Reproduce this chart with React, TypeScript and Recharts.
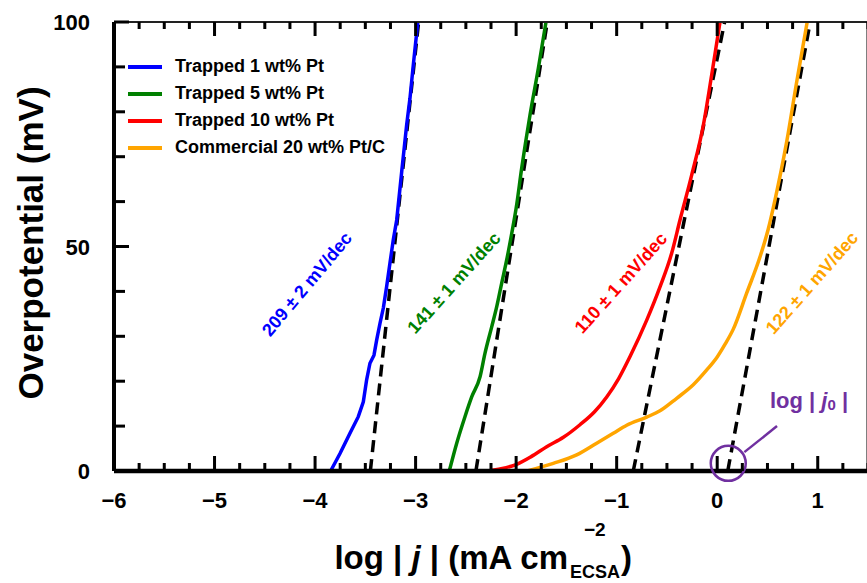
import React from "react";
import { ComposedChart, Line, XAxis, YAxis, Legend, ReferenceDot, ReferenceLine } from "recharts";

const FONT = "'Liberation Sans', Arial, Helvetica, sans-serif";

const xTicks = [
  -6, -5.75, -5.5, -5.25, -5, -4.75, -4.5, -4.25, -4, -3.75, -3.5, -3.25, -3, -2.75, -2.5, -2.25, -2, -1.75, -1.5,
  -1.25, -1, -0.75, -0.5, -0.25, 0, 0.25, 0.5, 0.75, 1, 1.25, 1.5,
];
const yTicks = [0, 10, 20, 30, 40, 50, 60, 70, 80, 90, 100];

const names = ["Trapped 1 wt% Pt", "Trapped 5 wt% Pt", "Trapped 10 wt% Pt", "Commercial 20 wt% Pt/C"];
const colors = ["#0000ff", "#008000", "#ff0000", "#ffa500"];
const slopes = ["209 ± 2 mV/dec", "141 ± 1 mV/dec", "110 ± 1 mV/dec", "122 ± 1 mV/dec"];

const blueCurve = [
  { x: -3.845, y: 0 }, { x: -3.752, y: 3.9 }, { x: -3.653, y: 8.4 }, { x: -3.57, y: 12.1 }, { x: -3.52, y: 15.4 },
  { x: -3.487, y: 20.3 }, { x: -3.454, y: 24.0 }, { x: -3.414, y: 25.8 }, { x: -3.387, y: 29.2 }, { x: -3.354, y: 32.9 },
  { x: -3.321, y: 36.3 }, { x: -3.288, y: 41.1 }, { x: -3.255, y: 46.3 }, { x: -3.222, y: 51.5 }, { x: -3.188, y: 55.9 },
  { x: -3.138, y: 66.7 }, { x: -3.089, y: 77.1 }, { x: -3.056, y: 83.0 }, { x: -3.023, y: 90.4 }, { x: -2.978, y: 100 },
];
const greenCurve = [
  { x: -2.665, y: 0 }, { x: -2.591, y: 6.2 }, { x: -2.509, y: 12.1 }, { x: -2.442, y: 16.5 }, { x: -2.359, y: 21.0 },
  { x: -2.31, y: 26.2 }, { x: -2.243, y: 32.1 }, { x: -2.193, y: 36.6 }, { x: -2.144, y: 41.8 }, { x: -2.094, y: 47.0 },
  { x: -2.044, y: 52.9 }, { x: -2.0, y: 58.5 }, { x: -1.945, y: 67.4 }, { x: -1.862, y: 79.3 }, { x: -1.779, y: 89.7 },
  { x: -1.703, y: 100 },
];
const redCurve = [
  { x: -2.28, y: 0 }, { x: -2.15, y: 0.5 }, { x: -1.994, y: 1.5 }, { x: -1.85, y: 3.2 }, { x: -1.696, y: 5.4 },
  { x: -1.53, y: 7.5 }, { x: -1.365, y: 10.3 }, { x: -1.22, y: 13.2 }, { x: -1.099, y: 16.5 }, { x: -0.98, y: 20.6 },
  { x: -0.867, y: 25.5 }, { x: -0.701, y: 33.6 }, { x: -0.569, y: 41.0 }, { x: -0.453, y: 48.5 }, { x: -0.37, y: 55.9 },
  { x: -0.254, y: 65.9 }, { x: -0.138, y: 77.0 }, { x: -0.055, y: 88.2 }, { x: 0.028, y: 100 },
];
const orangeCurve = [
  { x: -1.89, y: 0 }, { x: -1.63, y: 1.7 }, { x: -1.398, y: 3.6 }, { x: -1.199, y: 6.2 }, { x: -1.034, y: 8.4 },
  { x: -0.9, y: 10.2 }, { x: -0.701, y: 12.0 }, { x: -0.569, y: 13.4 }, { x: -0.403, y: 16.2 }, { x: -0.238, y: 19.2 },
  { x: -0.104, y: 22.5 }, { x: 0.0, y: 25.4 }, { x: 0.08, y: 28.3 }, { x: 0.16, y: 31.6 }, { x: 0.293, y: 39.6 },
  { x: 0.426, y: 47.7 }, { x: 0.508, y: 53.9 }, { x: 0.575, y: 60.4 }, { x: 0.691, y: 73.3 }, { x: 0.791, y: 86.7 },
  { x: 0.895, y: 100 },
];
const curves = [blueCurve, greenCurve, redCurve, orangeCurve];
const curveTypes = ["linear", "monotone", "monotone", "monotone"];

// Tafel fits (straight lines from log j0 upward)
const blueFit = [{ x: -3.45, y: 0 }, { x: -2.97, y: 100 }];
const greenFit = [{ x: -2.4, y: 0 }, { x: -1.69, y: 100 }];
const redFit = [{ x: -0.835, y: 0 }, { x: 0.074, y: 100 }];
const orangeFit = [{ x: 0.105, y: 0 }, { x: 0.925, y: 100 }];
const fits = [blueFit, greenFit, redFit, orangeFit];

// where the slope labels sit, in data units
const slopeLabelX = [-4.08, -2.618, -0.957, 0.943];
const slopeLabelY = [41.6, 41.9, 41.9, 41.9];
const slopeAngles = [-50, -48, -48, -48.5];

const j0Point = { x: 0.11, y: 1.7 };
const j0Pointer = [{ x: 0.27, y: 4.2 }, { x: 0.595, y: 10 }];
const j0Label = { x: 0.525, y: 14 };

const PURPLE = "#7030a0";
const PLOT_H = 449; // plot box height in px
const W = 870;
const H = 583;
const MARGIN = { top: 20, right: 0, bottom: 0, left: 0 };

// invisible series so the overlay's x axis has something to scale
const tickAnchors = [{ x: -6, y: 0 }, { x: 1.5, y: 100 }];

const fmt = (v: number) => (v < 0 ? `\u2212${-v}` : `${v}`);

const BottomTick = (props: any) => {
  const v = props.payload.value;
  if (!Number.isInteger(v)) return <g />;
  return (
    <text x={props.x} y={Number(props.y) + 37} textAnchor="middle" fontFamily={FONT} fontWeight="bold" fontSize={22} fill="#000">
      {fmt(v)}
    </text>
  );
};

// inward ticks on the bottom and top frame edges (drawn by the overlay chart)
const FrameTickX = (props: any) => {
  const x = Number(props.x);
  const y = Number(props.y);
  const major = Number.isInteger(props.payload.value);
  const lb = major ? 15 : 8;
  const lt = major ? 14 : 7;
  return (
    <g>
      <rect x={x - 1.5} y={y - lb} width={3} height={lb} fill="#000" />
      <rect x={x - 1.5} y={y - PLOT_H} width={3} height={lt} fill="#000" />
    </g>
  );
};

const LeftTick = (props: any) => {
  const x = Number(props.x);
  const y = Number(props.y);
  const v = props.payload.value;
  const major = v % 50 === 0;
  const len = major ? 15 : 11;
  return (
    <g>
      <rect x={x} y={y - 1.5} width={len} height={3} fill="#000" />
      {major && (
        <text x={x - 24} y={y + 8} textAnchor="end" fontFamily={FONT} fontWeight="bold" fontSize={22} fill="#000">
          {v}
        </text>
      )}
    </g>
  );
};

const RightTick = (props: any) => {
  const x = Number(props.x);
  const y = Number(props.y);
  const len = props.payload.value % 50 === 0 ? 15 : 7;
  return <rect x={x - len} y={y - 1.5} width={len} height={3} fill="#000" />;
};

const XLabel = ({ viewBox }: any) => {
  const cx = viewBox.x + viewBox.width / 2 - 4;
  const base = 569;
  return (
    <g fontFamily={FONT} fontWeight="bold" fill="#000">
      <text x={cx + 81} y={base} textAnchor="end" fontSize={33}>
        log | <tspan fontStyle="italic">j</tspan> | (mA cm
      </text>
      <text x={cx + 97} y={536} fontSize={19}>
        {"\u22122"}
      </text>
      <text x={cx + 83} y={578} fontSize={18}>
        ECSA
      </text>
      <text x={cx + 134} y={base} fontSize={33}>
        )
      </text>
    </g>
  );
};

const YLabel = () => (
  <text
    x={43}
    y={243}
    transform="rotate(-90, 43, 243)"
    textAnchor="middle"
    fontFamily={FONT}
    fontWeight="bold"
    fontSize={35}
    fill="#000"
  >
    Overpotential (mV)
  </text>
);

const renderLegend = () => (
  <div style={{ fontFamily: FONT, fontWeight: "bold", fontSize: 18, color: "#000" }}>
    {names.map((n, i) => (
      <div key={n} style={{ display: "flex", alignItems: "center", height: 27 }}>
        <span style={{ display: "inline-block", width: 34, height: 4, background: colors[i], marginRight: 13 }} />
        <span>{n}</span>
      </div>
    ))}
  </div>
);

const slopeShape = (i: number) => (props: any) => {
  const { cx, cy } = props;
  return (
    <text
      x={cx}
      y={cy}
      transform={`rotate(${slopeAngles[i]}, ${cx}, ${cy})`}
      textAnchor="middle"
      dominantBaseline="central"
      fontFamily={FONT}
      fontWeight="bold"
      fontSize={18}
      fill={colors[i]}
    >
      {slopes[i]}
    </text>
  );
};

const j0Shape = (props: any) => {
  const { cx, cy } = props;
  return (
    <text x={cx} y={cy} fontFamily={FONT} fontWeight="bold" fontSize={22} fill={PURPLE}>
      log | <tspan fontStyle="italic">j</tspan>
      <tspan fontSize={15} dy={2}>0</tspan>
      <tspan dy={-2}> |</tspan>
    </text>
  );
};

// second chart with the same layout, laid over the first, that only draws the x frame ticks
function FrameTicks() {
  return (
    <div style={{ position: "absolute", left: 0, top: 0, pointerEvents: "none" }}>
      <ComposedChart width={W} height={H} margin={MARGIN}>
        <XAxis
          type="number"
          dataKey="x"
          domain={[-6, 1.5]}
          ticks={xTicks}
          interval={0}
          height={112}
          tickSize={0}
          tickMargin={0}
          tickLine={false}
          axisLine={false}
          tick={FrameTickX}
        />
        <XAxis xAxisId="top" orientation="top" type="number" dataKey="x" domain={[-6, 1.5]} height={2} tick={false} tickLine={false} axisLine={false} />
        <YAxis type="number" domain={[0, 100]} width={114} tick={false} tickLine={false} axisLine={false} />
        <YAxis yAxisId="right" orientation="right" type="number" domain={[0, 100]} width={2} tick={false} tickLine={false} axisLine={false} />
        <Line data={tickAnchors} dataKey="y" stroke="none" dot={false} activeDot={false} legendType="none" isAnimationActive={false} />
      </ComposedChart>
    </div>
  );
}

export default function App() {
  return (
    <div style={{ position: "absolute", left: 0, top: 0, width: 867, height: 583, overflow: "hidden", background: "#fff" }}>
      <ComposedChart width={W} height={H} margin={MARGIN}>
        <XAxis
          xAxisId={0}
          type="number"
          dataKey="x"
          domain={[-6, 1.5]}
          ticks={xTicks}
          interval={0}
          height={112}
          tickSize={0}
          tickMargin={0}
          tickLine={false}
          tick={BottomTick}
          axisLine={{ stroke: "#000", strokeWidth: 4.5 }}
          label={<XLabel />}
        />
        <XAxis
          xAxisId="top"
          orientation="top"
          type="number"
          dataKey="x"
          domain={[-6, 1.5]}
          height={2}
          tick={false}
          tickLine={false}
          axisLine={{ stroke: "#222", strokeWidth: 2 }}
        />
        <YAxis
          yAxisId={0}
          type="number"
          domain={[0, 100]}
          ticks={yTicks}
          interval={0}
          width={114}
          tickSize={0}
          tickMargin={0}
          tickLine={false}
          tick={LeftTick}
          axisLine={{ stroke: "#000", strokeWidth: 4 }}
          label={<YLabel />}
        />
        <YAxis
          yAxisId="right"
          orientation="right"
          type="number"
          domain={[0, 100]}
          ticks={yTicks}
          interval={0}
          width={2}
          tickSize={0}
          tickMargin={0}
          tickLine={false}
          tick={RightTick}
          axisLine={{ stroke: "#000", strokeWidth: 3 }}
        />
        <Legend
          layout="vertical"
          align="center"
          verticalAlign="middle"
          wrapperStyle={{ position: "absolute", left: 128, top: 53, width: "auto", height: "auto" }}
          content={renderLegend}
        />
        {fits.map((d, i) => (
          <Line
            key={`fit-${i}`}
            data={d}
            dataKey="y"
            type="linear"
            stroke="#000"
            strokeWidth={3.5}
            strokeDasharray="12 7"
            dot={false}
            activeDot={false}
            legendType="none"
            isAnimationActive={false}
          />
        ))}
        {curves.map((d, i) => (
          <Line
            key={names[i]}
            name={names[i]}
            data={d}
            dataKey="y"
            type={curveTypes[i] as any}
            stroke={colors[i]}
            strokeWidth={3.5}
            dot={false}
            activeDot={false}
            isAnimationActive={false}
          />
        ))}
        {slopes.map((s, i) => (
          <ReferenceDot key={s} x={slopeLabelX[i]} y={slopeLabelY[i]} ifOverflow="visible" shape={slopeShape(i)} />
        ))}
        <ReferenceDot
          x={j0Point.x}
          y={j0Point.y}
          r={17.5}
          fill="none"
          stroke={PURPLE}
          strokeWidth={2.5}
          ifOverflow="visible"
        />
        <ReferenceLine segment={j0Pointer} stroke={PURPLE} strokeWidth={2.5} ifOverflow="visible" />
        <ReferenceDot x={j0Label.x} y={j0Label.y} ifOverflow="visible" shape={j0Shape} />
      </ComposedChart>
      <FrameTicks />
    </div>
  );
}
